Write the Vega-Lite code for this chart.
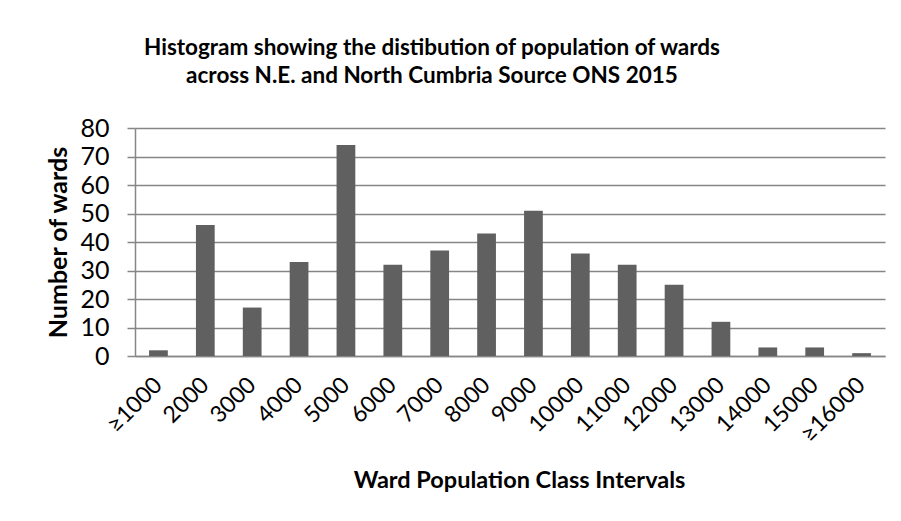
{
  "$schema": "https://vega.github.io/schema/vega-lite/v6.json",
  "autosize": {"type": "none"},
  "width": 750,
  "height": 228,
  "padding": {"left": 135, "top": 128, "right": 16, "bottom": 165},
  "background": "white",
  "config": {
    "font": "Lato",
    "view": {"stroke": null}
  },
  "title": {
    "text": ["Histogram showing the distibution of population of wards", "across N.E. and North Cumbria Source ONS 2015"],
    "font": "Lato",
    "fontSize": 22.5,
    "fontWeight": "bold",
    "color": "#000000",
    "anchor": "middle",
    "dx": -78,
    "offset": 29,
    "lineHeight": 28
  },
  "data": {
    "values": [
      {"interval": "≥1000", "wards": 2},
      {"interval": "2000", "wards": 46},
      {"interval": "3000", "wards": 17},
      {"interval": "4000", "wards": 33},
      {"interval": "5000", "wards": 74},
      {"interval": "6000", "wards": 32},
      {"interval": "7000", "wards": 37},
      {"interval": "8000", "wards": 43},
      {"interval": "9000", "wards": 51},
      {"interval": "10000", "wards": 36},
      {"interval": "11000", "wards": 32},
      {"interval": "12000", "wards": 25},
      {"interval": "13000", "wards": 12},
      {"interval": "14000", "wards": 3},
      {"interval": "15000", "wards": 3},
      {"interval": "≥16000", "wards": 1}
    ]
  },
  "mark": {"type": "bar", "color": "#606060"},
  "encoding": {
    "x": {
      "field": "interval",
      "type": "nominal",
      "sort": null,
      "scale": {"paddingInner": 0.6, "paddingOuter": 0.3},
      "axis": {
        "title": "Ward Population Class Intervals",
        "titleFont": "Lato",
        "titleFontSize": 23.5,
        "titleFontWeight": "bold",
        "titleColor": "#000000",
        "titlePadding": 22,
        "titleX": 384,
        "labelAngle": -45,
        "labelAlign": "right",
        "labelBaseline": "middle",
        "labelFont": "Lato",
        "labelFontSize": 23,
        "labelColor": "#000000",
        "labelOffset": 0,
        "labelPadding": 25,
        "labelOverlap": false,
        "ticks": false,
        "domainColor": "#868686",
        "domainWidth": 1.5,
        "grid": false
      }
    },
    "y": {
      "field": "wards",
      "type": "quantitative",
      "scale": {"domain": [0, 80], "nice": false},
      "axis": {
        "title": "Number  of wards",
        "titleFont": "Lato",
        "titleFontSize": 25,
        "titleFontWeight": "bold",
        "titleColor": "#000000",
        "titlePadding": 8,
        "values": [0, 10, 20, 30, 40, 50, 60, 70, 80],
        "labelFont": "Lato",
        "labelFontSize": 25,
        "labelColor": "#000000",
        "labelPadding": 18,
        "tickSize": 8,
        "tickColor": "#868686",
        "tickWidth": 1.5,
        "domainColor": "#868686",
        "domainWidth": 1.5,
        "gridColor": "#868686",
        "gridWidth": 1.5
      }
    }
  }
}
